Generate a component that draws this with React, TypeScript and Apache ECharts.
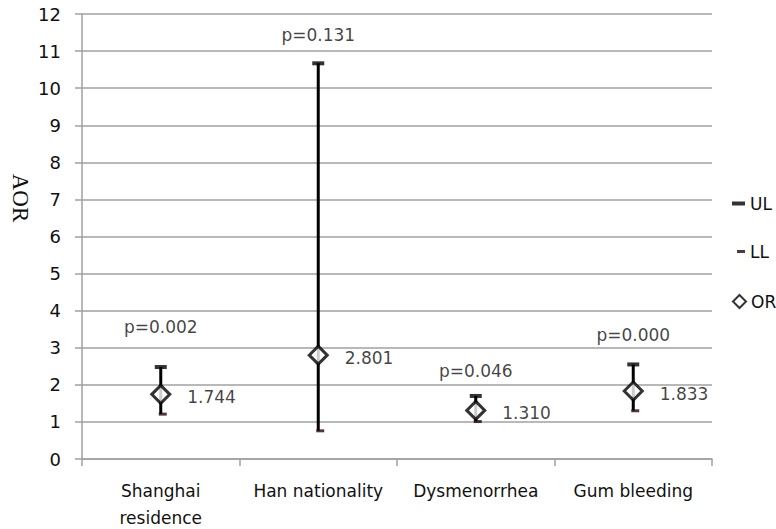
import React, { useEffect, useRef } from "react";
import * as echarts from "echarts";

const categories = ["Shanghai\nresidence", "Han nationality", "Dysmenorrhea", "Gum bleeding"];
const ulValues = [2.48, 10.67, 1.7, 2.55];
const llValues = [1.21, 0.76, 1.01, 1.3];
const orValues = [1.744, 2.801, 1.31, 1.833];
const pTexts = ["p=0.002", "p=0.131", "p=0.046", "p=0.000"];
const pLabelLevels = [3.56, 11.43, 2.36, 3.35];

const FONT = "DejaVu Sans";
const TXT = "#111";
const GRID = "#a0a0a0";

export default function App() {
  const ref = useRef<HTMLDivElement>(null);
  useEffect(() => {
    if (!ref.current) return;
    const chart = echarts.init(ref.current, null, { renderer: "svg" });
    const legendText = { fontFamily: FONT, fontSize: 17, color: TXT };
    chart.setOption({
      animation: false,
      backgroundColor: "#fff",
      grid: { left: 82, right: 64, top: 14, bottom: 70, outerBoundsMode: "none" },
      xAxis: {
        type: "category",
        data: categories,
        boundaryGap: true,
        axisLine: { show: true, lineStyle: { color: GRID, width: 1.5 } },
        axisTick: { show: true, length: 7, alignWithLabel: false, lineStyle: { color: GRID, width: 1.5 } },
        axisLabel: {
          interval: 0,
          margin: 18,
          fontFamily: FONT,
          fontSize: 17,
          lineHeight: 27,
          color: TXT,
        },
        splitLine: { show: false },
      },
      yAxis: {
        type: "value",
        min: 0,
        max: 12,
        interval: 1,
        axisLine: { show: true, lineStyle: { color: GRID, width: 1.5 } },
        axisTick: { show: true, length: 7, lineStyle: { color: GRID, width: 1.5 } },
        axisLabel: { margin: 21, fontFamily: FONT, fontSize: 18, color: TXT },
        splitLine: { show: true, lineStyle: { color: GRID, width: 1.5 } },
      },
      legend: [
        {
          data: ["UL"],
          left: 732,
          top: 195,
          padding: 0,
          itemWidth: 13,
          itemHeight: 4,
          icon: "path://M0,0H13V4H0Z",
          textStyle: legendText,
        },
        {
          data: ["LL"],
          left: 737,
          top: 243,
          padding: 0,
          itemWidth: 8,
          itemHeight: 3,
          icon: "path://M0,0H8V3H0Z",
          textStyle: legendText,
        },
        {
          data: ["OR"],
          left: 732,
          top: 293,
          padding: 0,
          itemWidth: 13,
          itemHeight: 13,
          icon: "diamond",
          textStyle: legendText,
        },
      ],
      graphic: [
        {
          type: "text",
          x: 20,
          y: 198,
          rotation: -Math.PI / 2,
          style: {
            text: "AOR",
            font: "23px 'Liberation Serif'",
            fill: TXT,
            align: "center",
            verticalAlign: "middle",
          },
        },
      ],
      series: [
        {
          name: "range",
          type: "custom",
          z: 2,
          data: categories.map((_, i) => [i, llValues[i], ulValues[i]]),
          encode: { x: 0, y: [1, 2] },
          renderItem: (params: any, api: any) => {
            const i = api.value(0);
            const lo = api.coord([i, api.value(1)]);
            const hi = api.coord([i, api.value(2)]);
            return {
              type: "line",
              shape: { x1: lo[0], y1: lo[1], x2: hi[0], y2: hi[1] },
              style: { stroke: "#000", lineWidth: 3 },
            };
          },
        },
        {
          name: "UL",
          type: "scatter",
          z: 3,
          symbol: "rect",
          symbolSize: [12, 4],
          itemStyle: { color: "#000" },
          data: ulValues,
        },
        {
          name: "LL",
          type: "scatter",
          z: 3,
          symbol: "rect",
          symbolSize: [8, 3],
          symbolOffset: [2, 0],
          itemStyle: { color: "#2b0808" },
          data: llValues,
        },
        {
          name: "OR",
          type: "scatter",
          z: 4,
          symbol: "diamond",
          symbolSize: 18,
          itemStyle: { color: "#fff", borderColor: "#000", borderWidth: 3 },
          label: {
            show: true,
            position: "right",
            distance: 16,
            offset: [0, 3],
            fontFamily: FONT,
            fontSize: 17,
            color: TXT,
            formatter: (p: any) => orValues[p.dataIndex].toFixed(3),
          },
          data: orValues,
        },
        {
          name: "pvals",
          type: "scatter",
          z: 5,
          symbolSize: 0,
          silent: true,
          itemStyle: { color: "transparent" },
          label: {
            show: true,
            position: "inside",
            fontFamily: FONT,
            fontSize: 17,
            color: TXT,
            formatter: (p: any) => pTexts[p.dataIndex],
          },
          data: pLabelLevels,
        },
      ],
    });
    return () => chart.dispose();
  }, []);
  return (
    <div
      ref={ref}
      style={{ position: "fixed", left: 0, top: 0, width: 776, height: 529 }}
    />
  );
}
